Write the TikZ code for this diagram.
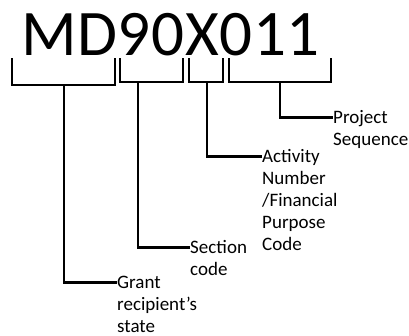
\documentclass[tikz,border=0pt]{standalone}
\usepackage{fontspec}
\setmainfont{Carlito}
\begin{document}
\begin{tikzpicture}[x=1pt,y=-1pt,
  bracket/.style={line width=2.6pt,line join=miter,line cap=butt},
  lead/.style={line width=2.6pt,line join=miter},
  lab/.style={anchor=north west,align=left,inner sep=0pt,
    font=\fontsize{19}{22}\selectfont}]
\useasboundingbox (0,0) rectangle (409,335);
% code string
\node[anchor=base west,inner sep=0pt,font=\fontsize{65}{70}\selectfont\addfontfeatures{LetterSpace=1}] (code) at (21,55) {MD90X011};
% brackets under the code parts
\draw[bracket] (12,58) -- (12,85) -- (115,85) -- (115,58);
\draw[bracket] (120,58) -- (120,82) -- (183,82) -- (183,58);
\draw[bracket] (189,58) -- (189,82) -- (223,82) -- (223,58);
\draw[bracket] (229,58) -- (229,82) -- (331,82) -- (331,58);
\coordinate (b1) at (64,85);
\coordinate (b2) at (138,82);
\coordinate (b3) at (207,82);
\coordinate (b4) at (280,82);
% labels: each node top sits one strut height above its first baseline
\node[lab] (state) at (117,272.6) {\strut Grant\\recipient’s\\state};
\node[lab] (section) at (190,237.6) {\strut Section\\code};
\node[lab] (activity) at (262,146.6) {\strut Activity\\Number\\/Financial\\Purpose\\Code};
\node[lab] (project) at (333,107.6) {\strut Project\\Sequence};
% leaders from each bracket to the first line of its label
\draw[lead] (b1) |- ([yshift=-10pt]state.north west);
\draw[lead] (b2) |- ([yshift=-10pt]section.north west);
\draw[lead] (b3) |- ([yshift=-10pt]activity.north west);
\draw[lead] (b4) |- ([yshift=-10pt]project.north west);
\end{tikzpicture}
\end{document}
